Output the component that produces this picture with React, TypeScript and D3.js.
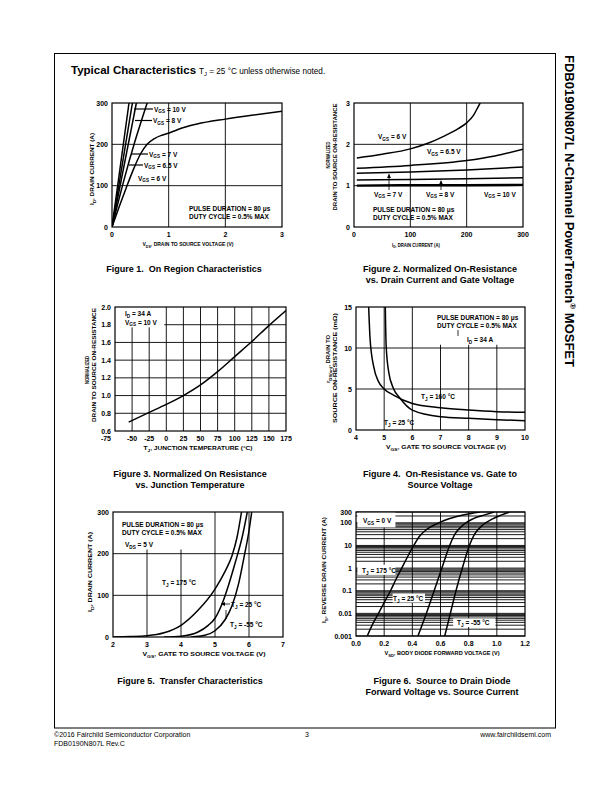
import React from "react";
import * as d3 from "d3";

type Pt = [number, number];
const FONT = "'Liberation Sans', Arial, Helvetica, sans-serif";

// ---------------- Figure 1: On Region Characteristics ----------------
const f1XTicks = [0, 1, 2, 3];
const f1YTicks = [0, 100, 200, 300];
const f1Vgs10: Pt[] = [[0, 0], [0.3, 300]];
const f1Vgs8: Pt[] = [[0, 0], [0.36, 300]];
const f1Vgs7: Pt[] = [[0, 0], [0.43, 300]];
const f1Vgs65: Pt[] = [[0, 0], [0.2, 108], [0.4, 205], [0.53, 262], [0.62, 300]];
const f1Vgs6: Pt[] = [[0, 0], [0.13, 50], [0.26, 98], [0.38, 140], [0.5, 176], [0.62, 200], [0.75, 214], [0.88, 222], [1.0, 227], [1.25, 240], [1.5, 249], [2.0, 261], [2.5, 271], [3.0, 280]];

// ---------------- Figure 2: Normalized On-Resistance vs Drain Current ----------------
const f2XTicks = [0, 100, 200, 300];
const f2YTicks = [0, 1, 2, 3];
const f2Vgs6: Pt[] = [[5, 1.67], [50, 1.76], [100, 1.89], [130, 2.02], [160, 2.2], [185, 2.38], [200, 2.52], [212, 2.7], [220, 2.9], [224, 3.0]];
const f2Vgs65: Pt[] = [[5, 1.42], [100, 1.49], [200, 1.61], [250, 1.72], [300, 1.88]];
const f2Vgs7: Pt[] = [[5, 1.3], [100, 1.33], [200, 1.38], [300, 1.45]];
const f2Vgs8: Pt[] = [[5, 1.14], [100, 1.15], [200, 1.17], [300, 1.19]];
const f2Vgs10: Pt[] = [[5, 1.0], [100, 1.01], [200, 1.01], [300, 1.02]];

// ---------------- Figure 3: Normalized On Resistance vs Junction Temperature ----------------
const f3XTicks = [-75, -50, -25, 0, 25, 50, 75, 100, 125, 150, 175];
const f3YTicks = [0.6, 0.8, 1.0, 1.2, 1.4, 1.6, 1.8, 2.0];
const f3Temp = [-55, -25, 0, 25, 50, 75, 100, 125, 150, 175];
const f3Rnorm = [0.7, 0.81, 0.9, 1.0, 1.12, 1.27, 1.44, 1.61, 1.79, 1.96];

// ---------------- Figure 4: On-Resistance vs Gate to Source Voltage ----------------
const f4XTicks = [4, 5, 6, 7, 8, 9, 10];
const f4YTicks = [0, 5, 10, 15];
const f4T160: Pt[] = [[4.45, 15], [4.5, 11.1], [4.63, 7.7], [4.8, 5.9], [4.98, 5.07], [5.33, 4.26], [6, 3.24], [7, 2.72], [8, 2.43], [9, 2.23], [10, 2.15]];
const f4T25: Pt[] = [[5.04, 15], [5.07, 10.3], [5.16, 7.1], [5.33, 5.07], [5.57, 3.85], [6, 2.43], [7, 1.62], [8, 1.42], [9, 1.26], [10, 1.13]];

// ---------------- Figure 5: Transfer Characteristics ----------------
const f5XTicks = [2, 3, 4, 5, 6, 7];
const f5YTicks = [0, 100, 200, 300];
const f5T175: Pt[] = [[2, 0.3], [2.5, 1], [3, 3], [3.5, 10], [4, 28], [4.5, 64], [5, 115], [5.3, 158], [5.5, 195], [5.65, 240], [5.78, 300]];
const f5T25: Pt[] = [[3.5, 0], [4, 2], [4.5, 12], [4.8, 28], [5, 45], [5.2, 78], [5.4, 125], [5.6, 180], [5.8, 240], [5.95, 300]];
const f5Tm55: Pt[] = [[4.3, 0], [4.7, 4], [5.0, 15], [5.3, 42], [5.5, 75], [5.7, 130], [5.85, 190], [6.0, 255], [6.08, 300]];

// ---------------- Figure 6: Source to Drain Diode Forward Voltage ----------------
const f6XTicks = [0, 0.2, 0.4, 0.6, 0.8, 1.0, 1.2];
const f6YTicks = [0.001, 0.01, 0.1, 1, 10, 100, 300];
const f6YLabels = ["0.001", "0.01", "0.1", "1", "10", "100", "300"];
const f6T175: Pt[] = [[0.08, 0.001], [0.12, 0.0035], [0.16, 0.01], [0.2, 0.03], [0.245, 0.1], [0.285, 0.33], [0.325, 1], [0.37, 3.5], [0.41, 10], [0.45, 25], [0.5, 50], [0.58, 95], [0.66, 150], [0.76, 220], [0.88, 300]];
const f6T25: Pt[] = [[0.44, 0.001], [0.5, 0.01], [0.555, 0.1], [0.61, 1], [0.665, 10], [0.7, 30], [0.76, 80], [0.83, 150], [0.92, 230], [0.98, 300]];
const f6Tm55: Pt[] = [[0.63, 0.001], [0.67, 0.01], [0.71, 0.1], [0.755, 1], [0.805, 10], [0.84, 30], [0.9, 80], [0.97, 150], [1.04, 230], [1.09, 300]];

// ---------------------------------------------------------------------
type Curve = { pts: Pt[]; w?: number };
type Mask = [number, number, number, number]; // x0, x1, y0, y1 in data units

function rich(fs: number, main: string, sub?: string, rest?: string) {
  if (!sub) return <>{main}{rest ?? ""}</>;
  const d = fs * 0.3;
  return (
    <>
      {main}
      <tspan fontSize={fs * 0.72} dy={d}>{sub}</tspan>
      <tspan dy={-d}>{rest ?? ""}</tspan>
    </>
  );
}

function Lab(p: { x: number; y: number; fs?: number; main: string; sub?: string; rest?: string; anchor?: string; weight?: string }) {
  const fs = p.fs ?? 6.5;
  return (
    <text x={p.x} y={p.y} fontSize={fs} fontWeight={p.weight ?? "bold"} textAnchor={p.anchor ?? "start"}>
      {rich(fs, p.main, p.sub, p.rest)}
    </text>
  );
}

function VLab(p: { x: number; y: number; len: number; fs?: number; main: string; sub?: string; rest?: string }) {
  const fs = p.fs ?? 6;
  return (
    <text transform={`translate(${p.x},${p.y}) rotate(-90)`} fontSize={fs} fontWeight="bold" textAnchor="middle" textLength={p.len} lengthAdjust="spacingAndGlyphs">
      {rich(fs, p.main, p.sub, p.rest)}
    </text>
  );
}

function HTitle(p: { x: number; y: number; len: number; fs?: number; main: string; sub?: string; rest?: string }) {
  const fs = p.fs ?? 6;
  return (
    <text x={p.x} y={p.y} fontSize={fs} fontWeight="bold" textAnchor="middle" textLength={p.len} lengthAdjust="spacingAndGlyphs">
      {rich(fs, p.main, p.sub, p.rest)}
    </text>
  );
}

function Panel(p: {
  id: string;
  xs: any;
  ys: any;
  xGrid: number[];
  yGrid: number[];
  xTicks: number[];
  xLabels?: string[];
  yTicks: number[];
  yLabels?: string[];
  masks?: Mask[];
  curves: Curve[];
  firstXEnd?: boolean;
  children?: React.ReactNode;
}) {
  const [x0, x1] = p.xs.range();
  const [yb, yt] = p.ys.range();
  const line = d3
    .line<Pt>()
    .x((d) => p.xs(d[0]))
    .y((d) => p.ys(d[1]))
    .curve(d3.curveMonotoneX);
  return (
    <g>
      <defs>
        <clipPath id={p.id}>
          <rect x={x0} y={yt} width={x1 - x0} height={yb - yt} />
        </clipPath>
      </defs>
      {p.xGrid.map((v, i) => (
        <line key={"xg" + i} x1={p.xs(v)} x2={p.xs(v)} y1={yb} y2={yt} stroke="#000" strokeWidth={0.9} />
      ))}
      {p.yGrid.map((v, i) => (
        <line key={"yg" + i} x1={x0} x2={x1} y1={p.ys(v)} y2={p.ys(v)} stroke="#000" strokeWidth={0.9} />
      ))}
      {(p.masks ?? []).map((m, i) => (
        <rect key={"m" + i} x={p.xs(m[0])} y={p.ys(m[3])} width={p.xs(m[1]) - p.xs(m[0])} height={p.ys(m[2]) - p.ys(m[3])} fill="#fff" />
      ))}
      <g clipPath={`url(#${p.id})`}>
        {p.curves.map((c, i) => (
          <path key={"c" + i} d={line(c.pts) ?? ""} fill="none" stroke="#000" strokeWidth={c.w ?? 1.5} strokeLinejoin="round" />
        ))}
      </g>
      <rect x={x0} y={yt} width={x1 - x0} height={yb - yt} fill="none" stroke="#000" strokeWidth={1.2} />
      {p.xTicks.map((v, i) => (
        <text
          key={"xt" + i}
          x={p.firstXEnd && i === 0 ? p.xs(v) - 4 : p.xs(v)}
          y={yb + 9.5}
          fontSize={7}
          fontWeight="bold"
          textAnchor={p.firstXEnd && i === 0 ? "end" : "middle"}
        >
          {p.xLabels ? p.xLabels[i] : String(v)}
        </text>
      ))}
      {p.yTicks.map((v, i) => (
        <text key={"yt" + i} x={x0 - 4} y={p.ys(v) + 2.5} fontSize={7} fontWeight="bold" textAnchor="end">
          {p.yLabels ? p.yLabels[i] : String(v)}
        </text>
      ))}
      {p.children}
    </g>
  );
}

function Caption(p: { x: number; y: number; lines: string[] }) {
  return (
    <g>
      {p.lines.map((t, i) => (
        <text key={i} x={p.x} y={p.y + i * 10.5} fontSize={9} fontWeight="bold" textAnchor="middle" style={{ whiteSpace: "pre" }}>
          {t}
        </text>
      ))}
    </g>
  );
}

export default function App() {
  // scales
  const x1s = d3.scaleLinear().domain([0, 3]).range([112, 282]);
  const y1s = d3.scaleLinear().domain([0, 300]).range([227, 103]);
  const x2s = d3.scaleLinear().domain([0, 300]).range([354, 523]);
  const y2s = d3.scaleLinear().domain([0, 3]).range([227, 103]);
  const x3s = d3.scaleLinear().domain([-75, 175]).range([115, 286]);
  const y3s = d3.scaleLinear().domain([0.6, 2.0]).range([431, 307]);
  const x4s = d3.scaleLinear().domain([4, 10]).range([356, 525]);
  const y4s = d3.scaleLinear().domain([0, 15]).range([430, 307]);
  const x5s = d3.scaleLinear().domain([2, 7]).range([113, 283]);
  const y5s = d3.scaleLinear().domain([0, 300]).range([637, 512]);
  const x6s = d3.scaleLinear().domain([0, 1.2]).range([356, 525]);
  const y6s = d3.scaleLog().domain([0.001, 300]).range([636, 512]);

  const f3Pts: Pt[] = f3Temp.map((t, i) => [t, f3Rnorm[i]]);
  const f6Grid: number[] = [];
  for (let e = -3; e <= 2; e++) for (let k = 1; k <= 9; k++) {
    const v = k * Math.pow(10, e);
    if (v <= 300) f6Grid.push(v);
  }

  return (
    <svg width={612} height={792} viewBox="0 0 612 792" style={{ position: "absolute", left: 0, top: 0 }} fontFamily={FONT}>
      <defs>
        <marker id="arr" viewBox="0 0 6 6" refX="6" refY="3" markerWidth="5" markerHeight="5" orient="auto">
          <path d="M0,0 L6,3 L0,6 z" fill="#000" />
        </marker>
      </defs>
      <rect width={612} height={792} fill="#fff" />
      <rect x={54.5} y={53.5} width={501} height={674.5} fill="none" stroke="#000" strokeWidth={1} />

      {/* Title */}
      <text x={71} y={74} fontSize={11.5} fontWeight="bold">Typical Characteristics</text>
      <text x={199} y={74} fontSize={8.2}>
        {rich(8.2, "T", "J", " = 25 °C unless otherwise noted.")}
      </text>

      {/* Side title */}
      <text transform="translate(565,55) rotate(90)" fontSize={13} fontWeight="bold">
        FDB0190N807L N-Channel PowerTrench
        <tspan fontSize={8} dy={-5}>®</tspan>
        <tspan dy={5}> MOSFET</tspan>
      </text>

      {/* ---------- Figure 1 ---------- */}
      <Panel
        id="c1"
        xs={x1s}
        ys={y1s}
        xGrid={[1, 2]}
        yGrid={[100, 200]}
        xTicks={f1XTicks}
        yTicks={f1YTicks}
        curves={[{ pts: f1Vgs10 }, { pts: f1Vgs8 }, { pts: f1Vgs7 }, { pts: f1Vgs65 }, { pts: f1Vgs6 }]}
      >
        <line x1={134} x2={153} y1={109} y2={109} stroke="#000" strokeWidth={1.2} />
        <Lab x={154} y={111.5} main="V" sub="GS" rest=" = 10 V" />
        <line x1={135} x2={152} y1={120.5} y2={120.5} stroke="#000" strokeWidth={1.2} />
        <Lab x={153} y={123} main="V" sub="GS" rest=" = 8 V" />
        <line x1={131} x2={148} y1={154} y2={154} stroke="#000" strokeWidth={1.2} />
        <Lab x={149} y={156.5} main="V" sub="GS" rest=" = 7 V" />
        <line x1={129} x2={143} y1={165} y2={165} stroke="#000" strokeWidth={1.2} />
        <Lab x={144} y={167.5} main="V" sub="GS" rest=" = 6.5 V" />
        <Lab x={138} y={180.5} main="V" sub="GS" rest=" = 6 V" />
        <Lab x={189} y={210.5} main="PULSE DURATION = 80 μs" />
        <Lab x={189} y={218.5} main="DUTY CYCLE = 0.5% MAX" />
      </Panel>
      <HTitle x={188} y={246} len={91} fs={5.5} main="V" sub="DS" rest=", DRAIN TO SOURCE VOLTAGE (V)" />
      <VLab x={94} y={169} len={72} main="I" sub="D" rest=", DRAIN CURRENT (A)" />
      <Caption x={184} y={272} lines={["Figure 1.  On Region Characteristics"]} />

      {/* ---------- Figure 2 ---------- */}
      <Panel
        id="c2"
        xs={x2s}
        ys={y2s}
        xGrid={[100, 200]}
        yGrid={[1, 2]}
        xTicks={f2XTicks}
        yTicks={f2YTicks}
        curves={[{ pts: f2Vgs6 }, { pts: f2Vgs65 }, { pts: f2Vgs7 }, { pts: f2Vgs8 }, { pts: f2Vgs10, w: 2.4 }]}
      >
        <Lab x={378} y={139} main="V" sub="GS" rest=" = 6 V" />
        <Lab x={427} y={154} main="V" sub="GS" rest=" = 6.5 V" />
        <Lab x={374} y={196.5} main="V" sub="GS" rest=" = 7 V" />
        <Lab x={426} y={196.5} main="V" sub="GS" rest=" = 8 V" />
        <Lab x={484} y={196.5} main="V" sub="GS" rest=" = 10 V" />
        <line x1={389} x2={389} y1={190} y2={174} stroke="#000" strokeWidth={0.8} markerEnd="url(#arr)" />
        <line x1={441} x2={441} y1={190} y2={180.5} stroke="#000" strokeWidth={0.8} markerEnd="url(#arr)" />
        <Lab x={373} y={211.5} main="PULSE DURATION = 80 μs" />
        <Lab x={373} y={219.5} main="DUTY CYCLE = 0.5% MAX" />
      </Panel>
      <HTitle x={416} y={246.5} len={48} fs={4.8} main="I" sub="D" rest=", DRAIN CURRENT (A)" />
      <VLab x={330} y={155} len={27} fs={5.5} main="NORMALIZED" />
      <VLab x={337} y={157} len={107} fs={5.5} main="DRAIN TO SOURCE ON-RESISTANCE" />
      <Caption x={440} y={272} lines={["Figure 2. Normalized On-Resistance", "vs. Drain Current and Gate Voltage"]} />

      {/* ---------- Figure 3 ---------- */}
      <Panel
        id="c3"
        xs={x3s}
        ys={y3s}
        xGrid={[-50, -25, 0, 25, 50, 75, 100, 125, 150]}
        yGrid={[0.8, 1.0, 1.2, 1.4, 1.6, 1.8]}
        xTicks={f3XTicks}
        yTicks={f3YTicks}
        yLabels={f3YTicks.map((v) => v.toFixed(1))}
        masks={[[-75, -3, 1.77, 2.0]]}
        curves={[{ pts: f3Pts }]}
        firstXEnd
      >
        <Lab x={125} y={316} main="I" sub="D" rest=" = 34 A" />
        <Lab x={125} y={324.5} main="V" sub="GS" rest=" = 10 V" />
      </Panel>
      <HTitle x={198} y={450} len={109} fs={6} main="T" sub="J" rest=", JUNCTION TEMPERATURE (°C)" />
      <VLab x={89} y={370} len={28} fs={5.5} main="NORMALIZED" />
      <VLab x={96} y={365} len={114} fs={5.5} main="DRAIN TO SOURCE ON-RESISTANCE" />
      <Caption x={190} y={477} lines={["Figure 3. Normalized On Resistance", "vs. Junction Temperature"]} />

      {/* ---------- Figure 4 ---------- */}
      <Panel
        id="c4"
        xs={x4s}
        ys={y4s}
        xGrid={[5, 6, 7, 8, 9]}
        yGrid={[5, 10]}
        xTicks={f4XTicks}
        yTicks={f4YTicks}
        masks={[[6.85, 9.95, 10.4, 15]]}
        curves={[{ pts: f4T160 }, { pts: f4T25 }]}
      >
        <Lab x={437} y={320} main="PULSE DURATION = 80 μs" />
        <Lab x={437} y={327.5} main="DUTY CYCLE = 0.5% MAX" />
        <line x1={458} x2={458} y1={330} y2={336} stroke="#000" strokeWidth={0.8} />
        <Lab x={467} y={342} main="I" sub="D" rest=" = 34 A" />
        <Lab x={421} y={399} main="T" sub="J" rest=" = 160 °C" />
        <Lab x={384} y={425} main="T" sub="J" rest=" = 25 °C" />
      </Panel>
      <HTitle x={446} y={449} len={120} fs={6} main="V" sub="GS" rest=", GATE TO SOURCE VOLTAGE (V)" />
      <VLab x={330} y={359} len={48} fs={5.5} main="r" sub="DS(on)" rest=", DRAIN TO" />
      <VLab x={337} y={368} len={110} fs={5.5} main="SOURCE ON-RESISTANCE (mΩ)" />
      <Caption x={440} y={477} lines={["Figure 4.  On-Resistance vs. Gate to", "Source Voltage"]} />

      {/* ---------- Figure 5 ---------- */}
      <Panel
        id="c5"
        xs={x5s}
        ys={y5s}
        xGrid={[3, 4, 5, 6]}
        yGrid={[100, 200]}
        xTicks={f5XTicks}
        yTicks={f5YTicks}
        masks={[[2, 4.6, 210, 300]]}
        curves={[{ pts: f5T175 }, { pts: f5T25 }, { pts: f5Tm55 }]}
      >
        <Lab x={122} y={527} main="PULSE DURATION = 80 μs" />
        <Lab x={122} y={535} main="DUTY CYCLE = 0.5% MAX" />
        <Lab x={125} y={547} main="V" sub="DS" rest=" = 5 V" />
        <Lab x={162} y={585} main="T" sub="J" rest=" = 175 °C" />
        <line x1={230} x2={221} y1={604} y2={604} stroke="#000" strokeWidth={0.8} markerEnd="url(#arr)" />
        <Lab x={231} y={607} main="T" sub="J" rest=" = 25 °C" />
        <line x1={226} x2={226} y1={610} y2={619} stroke="#000" strokeWidth={0.8} />
        <Lab x={230} y={627} main="T" sub="J" rest=" = -55 °C" />
      </Panel>
      <HTitle x={204} y={656} len={123} fs={6} main="V" sub="GS" rest=", GATE TO SOURCE VOLTAGE (V)" />
      <VLab x={92} y={572} len={80} main="I" sub="D" rest=", DRAIN CURRENT (A)" />
      <Caption x={190} y={684} lines={["Figure 5.  Transfer Characteristics"]} />

      {/* ---------- Figure 6 ---------- */}
      <Panel
        id="c6"
        xs={x6s}
        ys={y6s}
        xGrid={[0.2, 0.4, 0.6, 0.8, 1.0]}
        yGrid={f6Grid}
        xTicks={f6XTicks}
        xLabels={f6XTicks.map((v) => v.toFixed(1))}
        yTicks={f6YTicks}
        yLabels={f6YLabels}
        masks={[
          [0.01, 0.28, 63, 300],
          [0.01, 0.28, 0.5, 1.4],
          [0.26, 0.49, 0.03, 0.075],
          [0.69, 0.99, 0.0025, 0.006],
        ]}
        curves={[{ pts: f6T175 }, { pts: f6T25 }, { pts: f6Tm55 }]}
      >
        <Lab x={363} y={523} main="V" sub="GS" rest=" = 0 V" />
        <Lab x={362} y={573} main="T" sub="J" rest=" = 175 °C" />
        <Lab x={393} y={601} main="T" sub="J" rest=" = 25 °C" />
        <Lab x={457} y={625} main="T" sub="J" rest=" = -55 °C" />
      </Panel>
      <HTitle x={442} y={655} len={115} fs={6} main="V" sub="SD" rest=", BODY DIODE FORWARD VOLTAGE (V)" />
      <VLab x={326} y={570} len={106} main="I" sub="S" rest=", REVERSE DRAIN CURRENT (A)" />
      <Caption x={442} y={684} lines={["Figure 6.  Source to Drain Diode", "Forward Voltage vs. Source Current"]} />

      {/* Footer */}
      <text x={54} y={737} fontSize={7}>©2016 Fairchild Semiconductor Corporation</text>
      <text x={54} y={745.5} fontSize={7}>FDB0190N807L Rev.C</text>
      <text x={307} y={737} fontSize={7} textAnchor="middle">3</text>
      <text x={551} y={737} fontSize={7} textAnchor="end">www.fairchildsemi.com</text>
    </svg>
  );
}
